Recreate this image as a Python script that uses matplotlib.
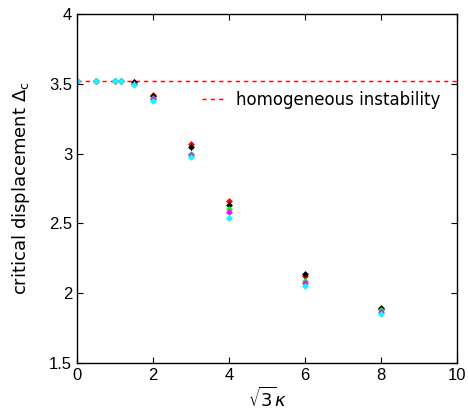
import numpy as np
import matplotlib
matplotlib.use("Agg")
import matplotlib.pyplot as plt

# x positions (sqrt(3) kappa)
kappa = [0, 0.5, 1.0, 1.15, 1.5, 2, 3, 4, 6, 8]

# critical displacement for each series
red = [3.52, 3.52, 3.52, 3.52, 3.51, 3.42, 3.065, 2.66, 2.125, 1.89]
black = [3.52, 3.52, 3.52, 3.52, 3.51, 3.41, 3.045, 2.63, 2.135, 1.895]
green = [3.52, 3.52, 3.52, 3.52, 3.50, 3.40, 3.00, 2.60, 2.09, 1.88]
magenta = [3.52, 3.52, 3.52, 3.52, 3.50, 3.39, 2.99, 2.58, 2.075, 1.865]
cyan = [3.52, 3.52, 3.52, 3.52, 3.49, 3.38, 2.975, 2.54, 2.05, 1.85]

homogeneous = 3.52

plt.rcParams["font.family"] = ["Liberation Sans", "DejaVu Sans"]

fig = plt.figure(figsize=(4.68, 4.18), dpi=100)
ax = fig.add_axes([0.1645, 0.1316, 0.812, 0.835])

ax.axhline(homogeneous, color="red", linestyle="--", linewidth=1,
           dashes=(3, 3), label="homogeneous instability")

for vals, col in [(red, "red"), (black, "black"), (green, "#00ff00"),
                  (magenta, "magenta"), (cyan, "cyan")]:
    ax.plot(kappa, vals, linestyle="none", marker="D", markersize=3.5,
            color=col, markeredgewidth=0)

ax.set_xlim(0, 10)
ax.set_ylim(1.5, 4)
ax.set_xticks([0, 2, 4, 6, 8, 10])
ax.set_yticks([1.5, 2, 2.5, 3, 3.5, 4])
ax.set_yticklabels(["1.5", "2", "2.5", "3", "3.5", "4"])
ax.tick_params(direction="in", top=True, right=True, labelsize=12, length=4)
for s in ax.spines.values():
    s.set_linewidth(1)

ax.set_xlabel(r"$\sqrt{3}\kappa$", fontsize=13, family="DejaVu Sans",
              labelpad=3)
ax.set_ylabel(r"critical displacement $\Delta_\mathrm{c}$", fontsize=13,
              family="DejaVu Sans", labelpad=12)

ax.legend(loc="center right", bbox_to_anchor=(0.995, 0.754), frameon=False,
          handlelength=1.4, handletextpad=0.6,
          prop={"family": "DejaVu Sans", "size": 12})

fig.savefig("out.png", dpi=100)
